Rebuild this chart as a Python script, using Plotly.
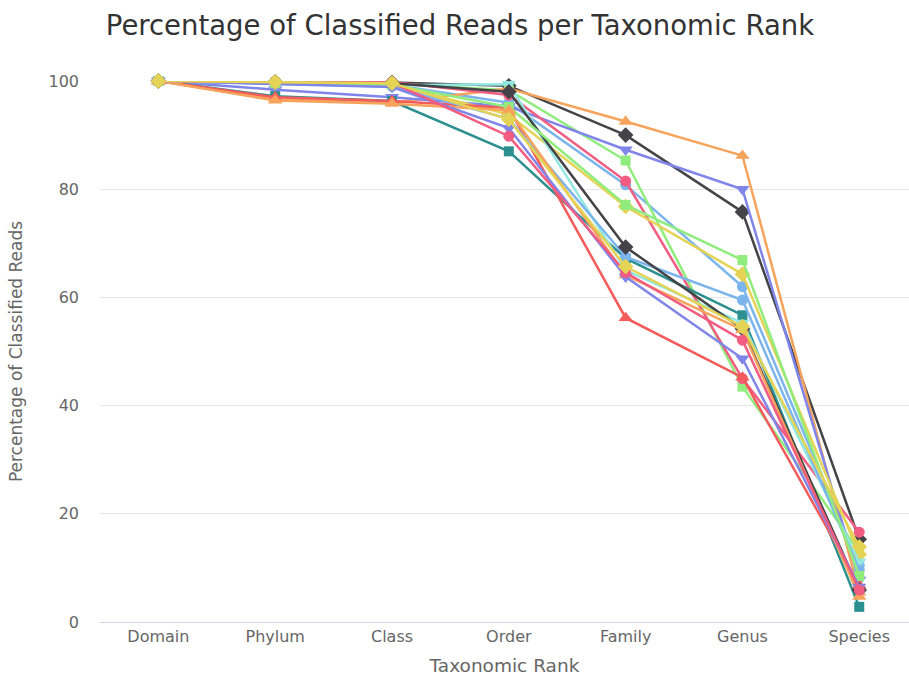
import plotly.graph_objects as go

ranks = ["Domain", "Phylum", "Class", "Order", "Family", "Genus", "Species"]

# Percentage of classified reads per taxonomic rank, one list per sample
s01 = [100, 99.6, 99.3, 96.0, 80.8, 62.0, 10.5]
s02 = [100, 99.8, 99.7, 99.1, 90.0, 75.8, 15.3]
s03 = [100, 99.7, 99.5, 98.3, 85.3, 43.5, 13.0]
s04 = [100, 96.6, 96.0, 98.6, 92.5, 86.2, 5.5]
s05 = [100, 98.4, 97.0, 95.3, 87.3, 80.0, 7.8]
s06 = [100, 99.9, 99.8, 97.4, 81.5, 45.0, 16.6]
s07 = [100, 99.7, 99.4, 93.8, 76.8, 64.3, 12.5]
s08 = [100, 97.2, 96.3, 87.0, 67.2, 56.7, 2.8]
s09 = [100, 97.0, 96.3, 95.0, 56.2, 45.2, 6.8]
s10 = [100, 99.5, 99.2, 99.4, 65.0, 55.3, 11.1]
s11 = [100, 99.5, 99.0, 93.0, 67.5, 59.5, 9.6]
s12 = [100, 99.8, 99.6, 98.0, 69.3, 54.2, 5.9]
s13 = [100, 99.6, 99.3, 95.2, 77.1, 66.9, 8.5]
s14 = [100, 96.4, 95.8, 94.6, 64.1, 54.0, 4.7]
s15 = [100, 99.4, 98.9, 91.3, 63.8, 48.7, 6.5]
s16 = [100, 99.9, 99.7, 89.8, 64.6, 52.1, 5.9]
s17 = [100, 99.8, 99.6, 92.9, 65.7, 54.6, 13.9]

samples = [s01, s02, s03, s04, s05, s06, s07, s08, s09,
           s10, s11, s12, s13, s14, s15, s16, s17]

palette = ["#7cb5ec", "#434348", "#90ed7d", "#f7a35c", "#8085e9",
           "#f15c80", "#e4d354", "#2b908f", "#f45b5b", "#91e8e1"]
symbols = ["circle", "diamond", "square", "triangle-up", "triangle-down"]
marker_sizes = {"circle": 11, "diamond": 12, "square": 10,
                "triangle-up": 12.5, "triangle-down": 12.5}

y_ticks = [0, 20, 40, 60, 80, 100]

fig = go.Figure()
for i, vals in enumerate(samples):
    color = palette[i % len(palette)]
    sym = symbols[i % len(symbols)]
    fig.add_trace(go.Scatter(
        x=ranks, y=vals, mode="lines+markers",
        name=f"Sample {i + 1}",
        line=dict(color=color, width=2.5),
        marker=dict(color=color, symbol=sym, size=marker_sizes[sym], line=dict(width=0)),
        cliponaxis=False,
    ))

font_family = "DejaVu Sans, sans-serif"

fig.update_layout(
    width=909, height=686,
    margin=dict(l=100, r=0, t=81, b=64),
    paper_bgcolor="white", plot_bgcolor="white",
    showlegend=False,
    font=dict(family=font_family, color="#666666"),
    title=dict(
        text="Percentage of Classified Reads per Taxonomic Rank",
        x=0.506, xanchor="center", y=0.977, yanchor="top",
        font=dict(size=27.5, color="#333333", family=font_family),
    ),
)

fig.update_xaxes(
    type="category", categoryorder="array", categoryarray=ranks,
    range=[-0.5, 6.426],
    showgrid=False, showline=True, linecolor="#ccd6eb", linewidth=1,
    ticks="", tickfont=dict(size=16, color="#666666"),
    title=dict(text="Taxonomic Rank", font=dict(size=18.5, color="#666666"), standoff=13),
)

fig.update_yaxes(
    range=[0, 100], tickvals=y_ticks,
    showgrid=True, gridcolor="#e6e6e6", gridwidth=1,
    zeroline=False, showline=False, ticks="",
    tickfont=dict(size=16, color="#666666"), ticklabelstandoff=20,
    title=dict(text="Percentage of Classified Reads", font=dict(size=17, color="#666666"), standoff=21),
)

fig.write_html("out.html")
